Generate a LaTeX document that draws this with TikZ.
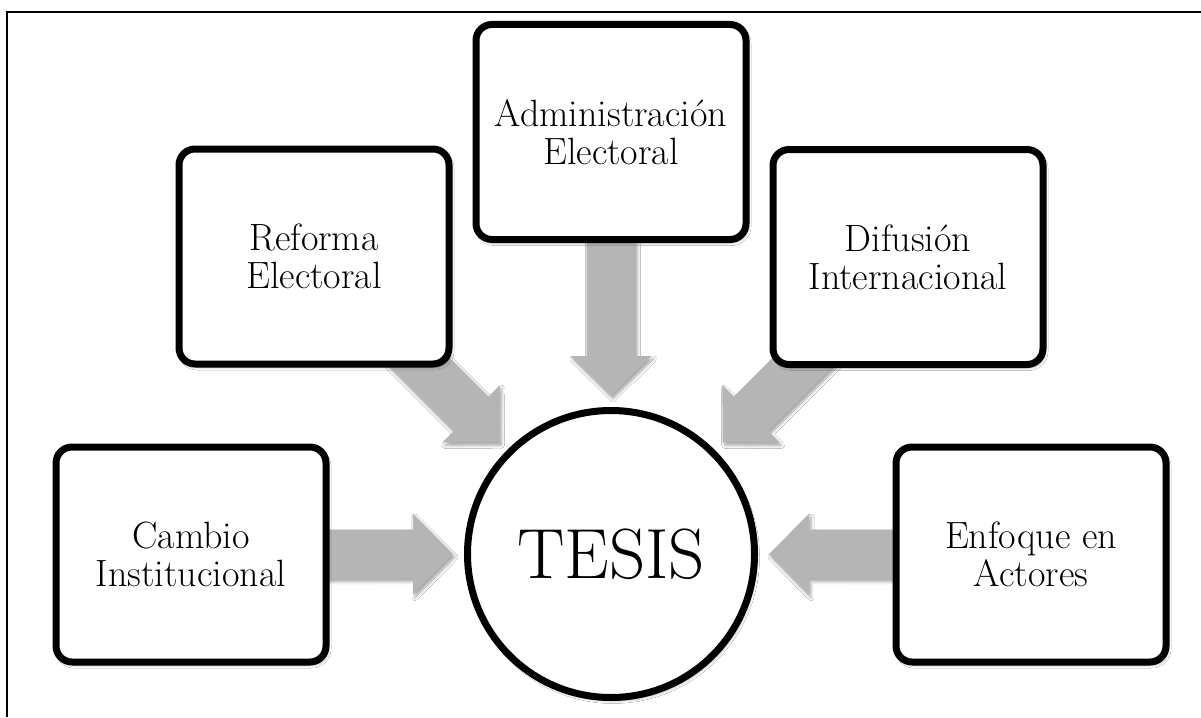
\documentclass[tikz,border=0pt]{standalone}
\usetikzlibrary{calc,shadows.blur,backgrounds}
\definecolor{arrowgray}{RGB}{181,181,181}
\tikzset{
  softshadow/.style={blur shadow={shadow xshift=2pt, shadow yshift=-3pt, shadow blur radius=3pt, shadow blur steps=6, shadow opacity=35}},
  topicbox/.style={draw=black, line width=7pt, fill=white, rounded corners=16pt,
    minimum width=270pt, minimum height=215pt, inner sep=0pt, align=center,
    font=\fontsize{38}{38}\selectfont, softshadow},
  hub/.style={circle, draw=black, line width=7pt, fill=white, minimum size=287pt,
    inner sep=0pt, font=\fontsize{71}{74}\selectfont, softshadow},
  blockfill/.style={fill=arrowgray, draw=none, softshadow},
  framerule/.style={draw=black, line width=2pt}
}
% block arrow from node #1 toward hub node #2
\newcommand\blockarrow[2]{%
  \coordinate (T) at ($(#2.center)!158pt!(#1.center)$);
  \coordinate (H) at ($(T)!40pt!(#1.center)$);
  \fill[blockfill] (T) -- ($(H)!40.5pt!90:(T)$) -- ($(H)!24.5pt!90:(T)$)
    -- ($(#1.center)!24.5pt!90:(T)$) -- ($(#1.center)!24.5pt!-90:(T)$)
    -- ($(H)!24.5pt!-90:(T)$) -- ($(H)!40.5pt!-90:(T)$) -- cycle;
}
\begin{document}
\begin{tikzpicture}[x=1pt,y=-1pt]
\useasboundingbox (0,0) rectangle (1201,717);

\node[topicbox] (reforma) at (314,256.5) {Reforma\\Electoral};
\node[topicbox] (admin) at (611,132) {Administración\\Electoral};
\node[topicbox] (difusion) at (908,257) {Difusión\\Internacional};
\node[topicbox] (cambio) at (191,554.5) {Cambio\\Institucional};
\node[topicbox] (enfoque) at (1031,554.5) {Enfoque en\\Actores};
\node[hub] (tesis) at (611,554) {TESIS};

\begin{scope}[on background layer]
\fill[white] (0,0) rectangle (1201,717);
\coordinate (fb) at (7,717);
\coordinate (fc) at (7,12);
\coordinate (fr) at (1201,12);
\draw[framerule] (fb) -- (fc) -- (fr);
\blockarrow{reforma}{tesis}
\blockarrow{admin}{tesis}
\blockarrow{difusion}{tesis}
\blockarrow{cambio}{tesis}
\blockarrow{enfoque}{tesis}
\end{scope}
\end{tikzpicture}
\end{document}
